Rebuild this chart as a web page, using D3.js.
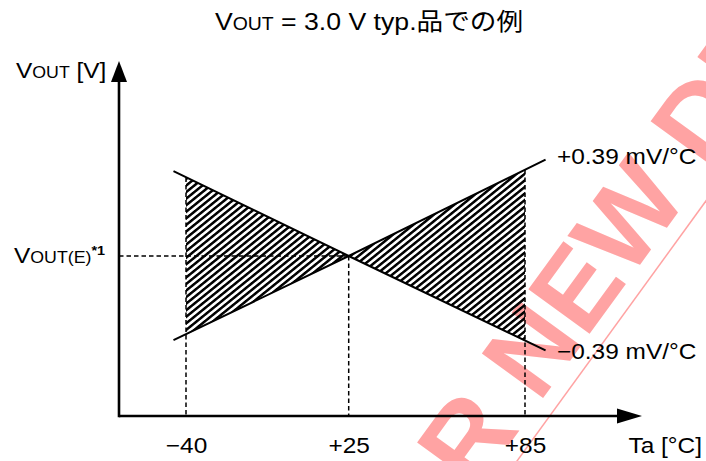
<!DOCTYPE html>
<html>
<head>
<meta charset="utf-8">
<script src="https://cdn.jsdelivr.net/npm/d3@7"></script>
<style>
  body { margin: 0; background: #fff; }
  svg { display: block; }
  text { font-family: "Liberation Sans", Arial, "Noto Sans CJK JP", sans-serif; }
</style>
</head>
<body>
<div id="chart"></div>
<script>
const W = 706, H = 461;
const stretch = 1.11;   // the original art is a bit wider than tall

// x: temperature ticks (schematic, not to scale)
const tempTicks = [-40, 25, 85];
const tickLabels = ["\u221240", "+25", "+85"];
// the two slope lines run a little past -40 / +85
const lineTemps = [-45, 25, 92];
const risingV  = [2.9737, 3.0000, 3.0301];
const fallingV = [3.0265, 3.0000, 2.9705];
// hatched band between -40 and +85
const bandTemps = [-40, 25, 85];
const bandHigh = [3.0245, 3.0000, 3.0269];
const bandLow  = [2.9754, 3.0000, 2.9737];
const vTyp = 3.0;
const slopeLabels = ["+0.39 mV/\u00b0C", "\u22120.39 mV/\u00b0C"];
const watermark = "NOT RECOMMENDED FOR NEW DESIGN";

var x0 = 119, yAxisTop = 61, xAxisEnd = 642;

var svg = d3.select("#chart").append("svg")
    .attr("width", W)
    .attr("height", H);

var x = d3.scaleLinear().domain(tempTicks).range([186, 348.7, 525]);
var y = d3.scaleLinear().domain([2.95, 3.06]).range([416, 64]);
var yBase = y(2.95);

// watermark sits under everything
var wm = svg.append("g").attr("transform", "translate(474,493) rotate(-54)");
var wmText = wm.append("text")
    .attr("font-size", 110)
    .attr("font-weight", "bold")
    .attr("fill", "#ffa3a3")
    .text(watermark);
var off = wmText.node().getSubStringLength(0, 18);
var wmLen = wmText.node().getComputedTextLength();
wmText.attr("x", -off);
wm.append("line")
    .attr("x1", -off).attr("x2", wmLen - off)
    .attr("y1", 16).attr("y2", 16)
    .attr("stroke", "#ffa3a3")
    .attr("stroke-width", 1.5);

// hatch pattern
var defs = svg.append("defs");
defs.append("pattern")
    .attr("id", "hatch")
    .attr("patternUnits", "userSpaceOnUse")
    .attr("width", 5.1).attr("height", 5.1)
    .attr("patternTransform", "rotate(51)")
  .append("rect")
    .attr("x", 0).attr("y", 0)
    .attr("width", 2.5).attr("height", 5.1)
    .attr("fill", "#000");

var band = bandTemps.map(function(t, i) { return {t: t, lo: bandLow[i], hi: bandHigh[i]}; });
svg.append("path")
    .datum(band)
    .attr("fill", "url(#hatch)")
    .attr("d", d3.area()
        .x(function(d) { return x(d.t); })
        .y0(function(d) { return y(d.lo); })
        .y1(function(d) { return y(d.hi); }));

// dashed guides
var dash = svg.append("g")
    .attr("stroke", "#000")
    .attr("stroke-width", 1.5)
    .attr("stroke-dasharray", "4.5,3")
    .attr("fill", "none");
var guideTop = [bandHigh[0], vTyp, bandHigh[2]];
tempTicks.forEach(function(t, i) {
  dash.append("line")
      .attr("x1", x(t)).attr("x2", x(t))
      .attr("y1", y(guideTop[i])).attr("y2", yBase);
});
dash.append("line")
    .attr("x1", x0).attr("x2", x(25))
    .attr("y1", y(vTyp)).attr("y2", y(vTyp));

// slope lines
var line = d3.line()
    .x(function(d) { return x(d.t); })
    .y(function(d) { return d.y; });
[risingV, fallingV].forEach(function(vals) {
  svg.append("path")
      .datum(lineTemps.map(function(t, i) { return {t: t, y: y(vals[i])}; }))
      .attr("fill", "none")
      .attr("stroke", "#000")
      .attr("stroke-width", 2)
      .attr("d", line);
});

// axes with arrow heads
svg.append("line")
    .attr("x1", x0).attr("x2", xAxisEnd - 20)
    .attr("y1", yBase).attr("y2", yBase)
    .attr("stroke", "#000").attr("stroke-width", 2.6);
svg.append("path")
    .attr("d", "M" + xAxisEnd + "," + yBase + "L" + (xAxisEnd - 25) + "," + (yBase - 7.5) +
               "L" + (xAxisEnd - 25) + "," + (yBase + 7.5) + "Z")
    .attr("fill", "#000");
svg.append("line")
    .attr("x1", x0).attr("x2", x0)
    .attr("y1", yBase + 1.3).attr("y2", yAxisTop + 18)
    .attr("stroke", "#000").attr("stroke-width", 2.6);
svg.append("path")
    .attr("d", "M" + x0 + "," + yAxisTop + "L" + (x0 - 8) + "," + (yAxisTop + 21) +
               "L" + (x0 + 8) + "," + (yAxisTop + 21) + "Z")
    .attr("fill", "#000");

// tick labels
var xAxis = svg.append("g")
    .attr("transform", "translate(0," + yBase + ")")
    .call(d3.axisBottom(x)
        .tickValues(tempTicks)
        .tickFormat(function(d, i) { return tickLabels[i]; })
        .tickSize(0)
        .tickPadding(21));
xAxis.select(".domain").remove();
xAxis.attr("font-family", null).attr("font-size", 22);
xAxis.selectAll("text")
    .attr("fill", "#000")
    .attr("transform", "scale(" + stretch + ",1)");

function label(px, py, anchor, size) {
  return svg.append("g")
      .attr("transform", "translate(" + px + "," + py + ") scale(" + stretch + ",1)")
    .append("text")
      .attr("text-anchor", anchor || "start")
      .attr("font-size", size || 22)
      .attr("fill", "#000");
}

// title
var title = label(369, 30, "middle", 24);
title.append("tspan").text("V");
title.append("tspan").attr("font-size", 17.5).text("OUT");
title.append("tspan").text(" = 3.0 V typ.\u54c1\u3067\u306e\u4f8b");

// axis names
var yName = label(16, 78);
yName.append("tspan").text("V");
yName.append("tspan").attr("font-size", 16).text("OUT");
yName.append("tspan").text(" [V]");

label(702, 453, "end").text("Ta [\u00b0C]");

var eName = label(14, 263);
eName.append("tspan").text("V");
eName.append("tspan").attr("font-size", 16).text("OUT(E)");
eName.append("tspan").attr("font-size", 13).attr("font-weight", "bold")
    .attr("dy", -8).text("*1");

// slope labels
label(557, 164).text(slopeLabels[0]);
label(557, 359).text(slopeLabels[1]);
</script>
</body>
</html>
